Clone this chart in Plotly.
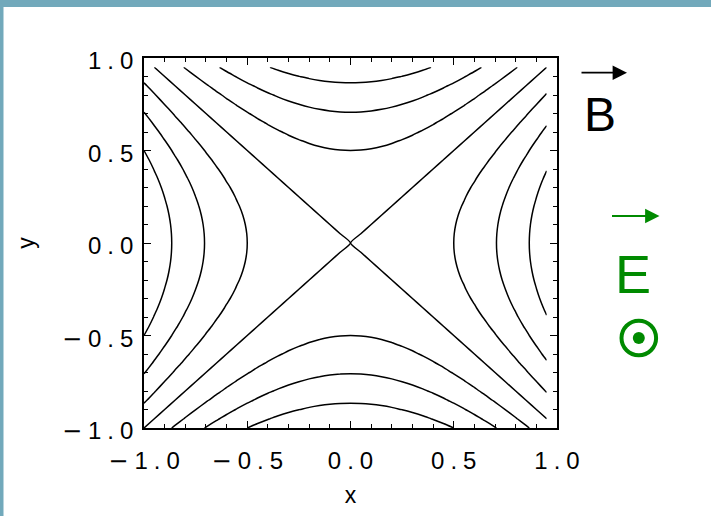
import numpy as np
import plotly.graph_objects as go

# ---------------- data ----------------
GRID_START = -1.0
GRID_STEP = 0.05
GRID_N = 40                      # grid runs from -1.00 to 0.95
CONTOUR_LEVELS = [-0.75, -0.5, -0.25, 0.0, 0.25, 0.5, 0.75]
TICK_VALUES = [-1.0, -0.5, 0.0, 0.5, 1.0]
TICK_LABELS = ["−1.0", "−0.5", "0.0", "0.5", "1.0"]
X_TITLE = "x"
Y_TITLE = "y"
B_LABEL = "B"
E_LABEL = "E"

x = np.round(GRID_START + GRID_STEP * np.arange(GRID_N), 4)
y = np.round(GRID_START + GRID_STEP * np.arange(GRID_N), 4)
X, Y = np.meshgrid(x, y)
Z = X ** 2 - Y ** 2              # hyperbolic field x^2 - y^2

# ---------------- layout helpers ----------------
W, H = 711, 516
ML, MR, MT, MB = 144, 154, 58, 88
PW, PH = W - ML - MR, H - MT - MB


def px(xp):
    return (xp - ML) / PW


def py(yp):
    return (MT + PH - yp) / PH


def spaced(s):
    # widen character spacing / longer minus to mimic the original typeface
    out = s.replace(".", "\u2005.\u2005")
    out = out.replace("−", '<span style="font-family:DejaVu Sans">−</span>\u2005')
    return out


FONT = "Liberation Sans, Arial, sans-serif"
GREEN = "#008a00"
FRAME = "#72a9bb"
EPS = 1e-9   # keeps the separatrix level off the exact saddle value

fig = go.Figure()
fig.add_trace(go.Contour(
    x=x, y=y, z=Z,
    contours=dict(start=CONTOUR_LEVELS[0] + EPS, end=CONTOUR_LEVELS[-1] + EPS,
                  size=CONTOUR_LEVELS[1] - CONTOUR_LEVELS[0],
                  coloring="lines", showlabels=False),
    colorscale=[[0, "black"], [1, "black"]],
    line=dict(width=1.5, smoothing=0.6),
    showscale=False, hoverinfo="skip",
))

axis_common = dict(
    range=[-1, 1], showline=True, linecolor="black", linewidth=1.6,
    mirror="allticks", ticks="inside", ticklen=7, tickwidth=1.4,
    tickcolor="black", showgrid=False, zeroline=False,
    tickvals=TICK_VALUES, ticktext=[spaced(t) for t in TICK_LABELS],
    tickfont=dict(family=FONT, size=24, color="black"),
    minor=dict(dtick=0.1, ticks="inside", ticklen=4, tickwidth=1.4,
               tickcolor="black", showgrid=False),
)

fig.update_layout(
    width=W, height=H,
    margin=dict(l=ML, r=MR, t=MT, b=MB, pad=0),
    paper_bgcolor="white", plot_bgcolor="white",
    showlegend=False,
    xaxis=dict(**axis_common, ticklabelstandoff=10,
               title=dict(text=X_TITLE, font=dict(family=FONT, size=23, color="black"), standoff=13)),
    yaxis=dict(**axis_common, ticklabelstandoff=4, ticklabelshift=3,
               title=dict(text=Y_TITLE, font=dict(family=FONT, size=23, color="black"), standoff=21)),
)

# frame bands of the slide (top and left)
fig.add_shape(type="rect", xref="paper", yref="paper",
              x0=px(0), x1=px(W), y0=py(7), y1=py(0),
              fillcolor=FRAME, line=dict(width=0), layer="above")
fig.add_shape(type="rect", xref="paper", yref="paper",
              x0=px(0), x1=px(3.5), y0=py(H), y1=py(0),
              fillcolor=FRAME, line=dict(width=0), layer="above")

# B vector
fig.add_annotation(xref="paper", yref="paper", x=px(627), y=py(72.7),
                   ax=-47, ay=0, text="", showarrow=True,
                   arrowhead=2, arrowsize=1.6, arrowwidth=1.8, arrowcolor="black")
fig.add_annotation(xref="paper", yref="paper", x=px(600), y=py(114),
                   text=B_LABEL, showarrow=False,
                   font=dict(family=FONT, size=48, color="black"),
                   xanchor="center", yanchor="middle")

# E vector (out of the page)
fig.add_annotation(xref="paper", yref="paper", x=px(659.5), y=py(216),
                   ax=-49, ay=0, text="", showarrow=True,
                   arrowhead=2, arrowsize=1.6, arrowwidth=1.8, arrowcolor=GREEN)
fig.add_annotation(xref="paper", yref="paper", x=px(633), y=py(274),
                   text=E_LABEL, showarrow=False,
                   font=dict(family=FONT, size=54, color=GREEN),
                   xanchor="center", yanchor="middle")

cx, cy, r = 638.8, 338, 17.3
fig.add_shape(type="circle", xref="paper", yref="paper",
              x0=px(cx - r), x1=px(cx + r), y0=py(cy + r), y1=py(cy - r),
              line=dict(color=GREEN, width=4), fillcolor="rgba(0,0,0,0)")
rd = 6
fig.add_shape(type="circle", xref="paper", yref="paper",
              x0=px(cx - rd), x1=px(cx + rd), y0=py(cy + rd), y1=py(cy - rd),
              line=dict(color=GREEN, width=0), fillcolor=GREEN)

fig.write_html("out.html",
               config={"displayModeBar": False},
               post_script="document.body.style.margin='0';"
                           "document.body.style.overflow='hidden';")
